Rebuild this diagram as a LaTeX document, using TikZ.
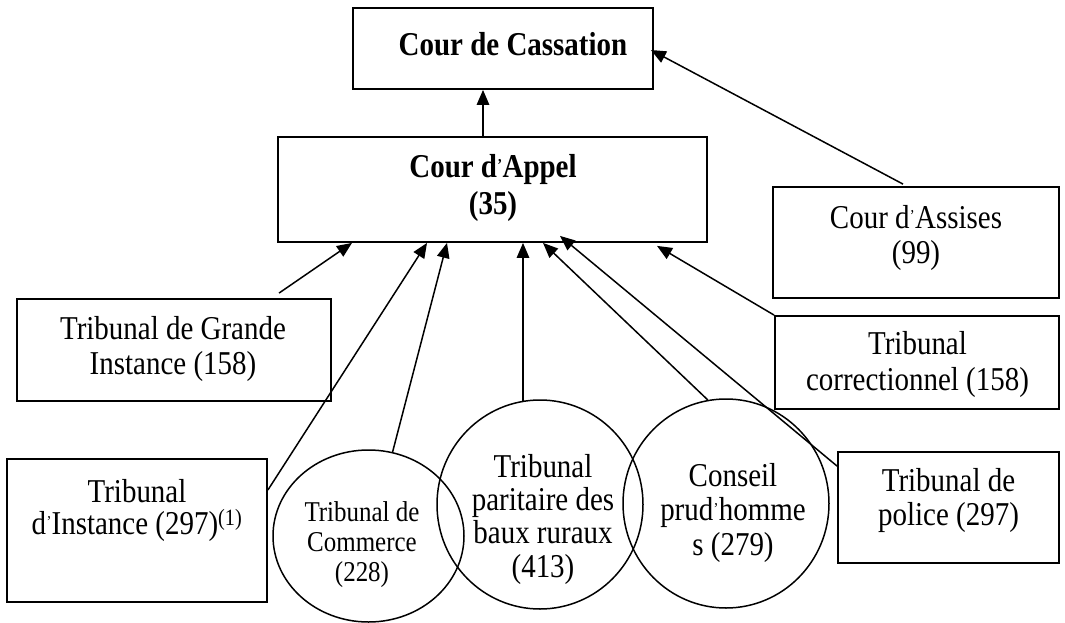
\documentclass[tikz,border=0pt]{standalone}
\usepackage{graphicx}
\usepackage{fontspec}
\setmainfont{Liberation Serif}[FakeStretch=0.87]
\usetikzlibrary{arrows.meta,shapes.geometric,calc}
\newcommand{\ap}{\kern0.01em\raisebox{0.2em}{\scalebox{0.5}{\textquoteright}}\kern0.01em}
\begin{document}
\begin{tikzpicture}[x=1pt,y=-1pt,
  box/.style={draw, line width=1.8pt, rectangle, inner sep=0pt},
  oval/.style={draw, line width=1.5pt, ellipse, inner sep=0pt},
  lbl/.style={inner sep=0pt, align=center},
  arr/.style={line width=1.5pt, -{Triangle[length=15pt,width=12.5pt]}}]
\useasboundingbox (0,0) rectangle (1065,623);

% boxes
\node[box, minimum width=300pt, minimum height=81pt] (cass) at (503,48.5) {};
\node[box, minimum width=429pt, minimum height=105pt] (appel) at (492.5,189.5) {};
\node[box, minimum width=286pt, minimum height=111pt] (assises) at (916,242.5) {};
\node[box, minimum width=314pt, minimum height=102pt] (tgi) at (174,350) {};
\node[box, minimum width=284pt, minimum height=93pt] (corr) at (917,362.5) {};
\node[box, minimum width=260pt, minimum height=143pt] (ti) at (137,530.5) {};
\node[box, minimum width=221pt, minimum height=111pt] (police) at (948.5,507.5) {};
% ovals
\node[oval, minimum width=191pt, minimum height=172pt] (comm) at (368.5,536) {};
\node[oval, minimum width=206pt, minimum height=209pt] (parit) at (540,504.5) {};
\node[oval, minimum width=206pt, minimum height=209pt] (cons) at (726,503.5) {};

% texts
\node[lbl, font=\fontsize{33.3}{35}\selectfont\bfseries] (cassT) at (513,44) {Cour de Cassation};
\node[lbl, font=\fontsize{33.3}{37}\selectfont\bfseries] (appelT) at (493,187.7) {Cour d\ap Appel\\(35)};
\node[lbl, font=\fontsize{33.3}{35}\selectfont] (assisesT) at (916,237.7) {Cour d\ap Assises\\(99)};
\node[lbl, font=\fontsize{33.3}{35}\selectfont] (tgiT) at (173,348.7) {Tribunal de Grande\\Instance (158)};
\node[lbl, font=\fontsize{33.3}{36}\selectfont] (corrT) at (917.5,364) {Tribunal\\correctionnel (158)};
\node[lbl, font=\fontsize{33.3}{34}\selectfont] (policeT) at (948.5,500) {Tribunal de\\police (297)};
\node[lbl, font=\fontsize{33.3}{32}\selectfont] (tiT) at (137,510.2) {Tribunal\\d\ap Instance (297)\textsuperscript{(1)}};
\node[lbl, font=\fontsize{28.7}{30}\selectfont] (commT) at (362,545) {Tribunal de\\Commerce\\(228)};
\node[lbl, font=\fontsize{33.3}{33.3}\selectfont] (paritT) at (543,519.2) {Tribunal\\paritaire des\\baux ruraux\\(413)};
\node[lbl, font=\fontsize{33.3}{34.5}\selectfont] (consT) at (733,512.7) {Conseil\\prud\ap homme\\s (279)};

% connectors
\draw[arr] ($(appel.north)+(-9.5,0)$) -- ($(cass.south)+(-20,0)$);
\draw[arr] ($(assises.north)+(-13,-2)$) -- ($(cass.east)+(-3,1.5)$);
\draw[arr] ($(tgi.north)+(105,-5)$) -- ($(appel.south)+(-140.5,0)$);
\draw[arr] ($(ti.east)+(0,-40.5)$) -- ($(appel.south)+(-65.5,0)$);
\draw[arr] (comm.74) -- ($(appel.south)+(-45.5,0)$);
\draw[arr] ($(parit.north)+(-17,1.5)$) -- ($(appel.south)+(30.5,0)$);
\draw[arr] (cons.100) -- ($(appel.south)+(50.5,0)$);
\draw[arr] ($(police.north west)+(0,15)$) -- ($(appel.south)+(67.5,-7)$);
\draw[arr] (corr.north west) -- ($(appel.south)+(164.5,3)$);
\end{tikzpicture}
\end{document}
